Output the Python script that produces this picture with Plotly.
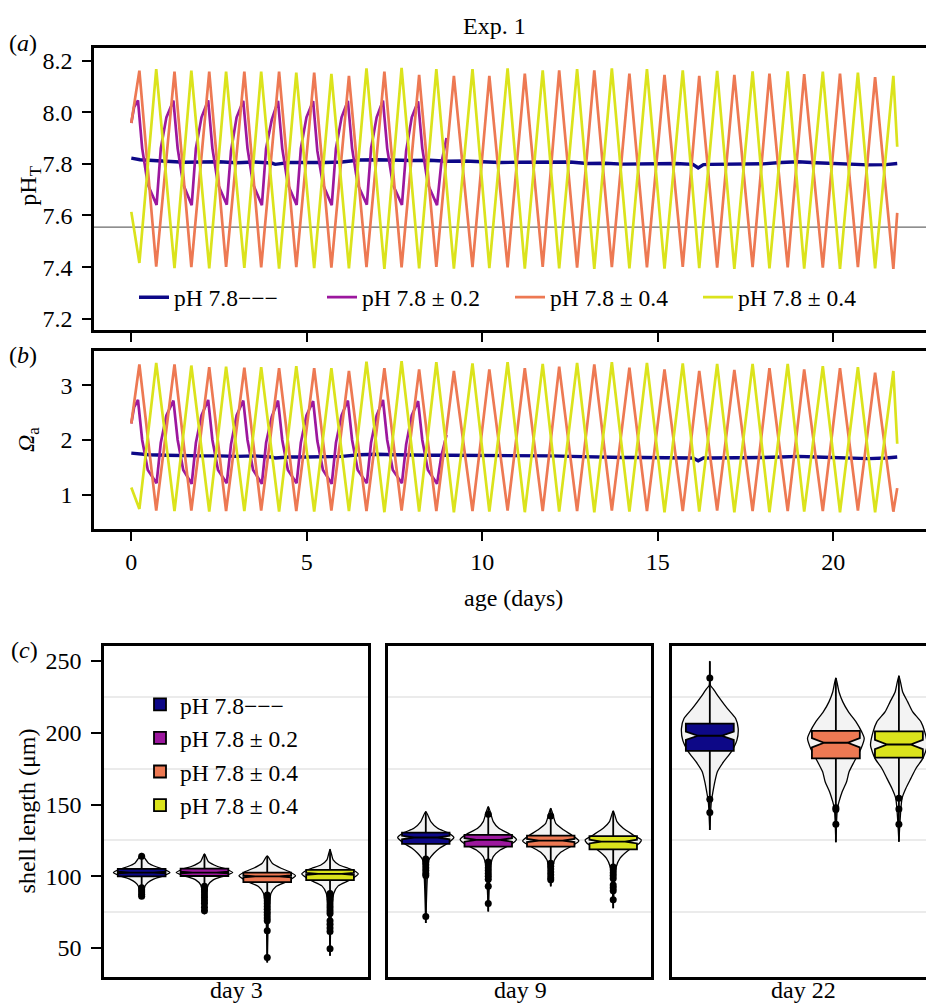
import plotly.graph_objects as go

# ---------------- DATA ----------------
SERIES = ["pH 7.8−−−", "pH 7.8 ± 0.2", "pH 7.8 ± 0.4", "pH 7.8 ± 0.4"]
COLORS = ["#0d0887", "#9c179e", "#ed7953", "#dbe31c"]

# panel (a)/(b) time series (age in days)
T_HIGH = [0.23, 1.23, 2.22, 3.22, 4.21, 5.21, 6.20, 7.21, 8.20, 9.19, 10.20,
          11.21, 12.19, 13.19, 14.19, 15.19, 16.18, 17.18, 18.18, 19.17, 20.19, 21.19]
T_LOW = [0.71, 1.71, 2.70, 3.70, 4.70, 5.70, 6.70, 7.70, 8.69, 9.72, 10.72,
         11.72, 12.70, 13.69, 14.69, 15.71, 16.69, 17.70, 18.70, 19.70, 20.70, 21.71]
T_START, T_END = 0.0, 21.82

ORANGE_PH_PEAK = [8.161, 8.157, 8.157, 8.157, 8.157, 8.153, 8.141, 8.157, 8.145, 8.141, 8.141,
                  8.149, 8.162, 8.162, 8.149, 8.145, 8.141, 8.145, 8.149, 8.147, 8.149, 8.136]
ORANGE_PH_TROUGH = [7.402, 7.400, 7.401, 7.399, 7.400, 7.398, 7.400, 7.399, 7.401, 7.400, 7.399,
                    7.401, 7.398, 7.400, 7.399, 7.401, 7.398, 7.400, 7.399, 7.398, 7.400, 7.393]
ORANGE_PH_ENDS = [7.958, 7.610]
YELLOW_PH_TROUGH = [7.416, 7.396, 7.395, 7.397, 7.394, 7.396, 7.395, 7.393, 7.395, 7.394, 7.396,
                    7.394, 7.395, 7.393, 7.395, 7.394, 7.396, 7.393, 7.395, 7.394, 7.393, 7.395]
YELLOW_PH_PEAK = [8.167, 8.161, 8.157, 8.157, 8.153, 8.148, 8.170, 8.172, 8.167, 8.167, 8.170,
                  8.162, 8.167, 8.170, 8.167, 8.162, 8.160, 8.158, 8.158, 8.157, 8.153, 8.141]
YELLOW_PH_ENDS = [7.614, 7.866]

ORANGE_OM_PEAK = [3.38, 3.38, 3.33, 3.32, 3.31, 3.31, 3.26, 3.31, 3.29, 3.26, 3.29,
                  3.31, 3.34, 3.38, 3.32, 3.29, 3.26, 3.28, 3.31, 3.29, 3.31, 3.23]
ORANGE_OM_TROUGH = [0.71, 0.71, 0.70, 0.71, 0.70, 0.71, 0.70, 0.71, 0.70, 0.70, 0.71,
                    0.70, 0.70, 0.71, 0.70, 0.70, 0.71, 0.70, 0.70, 0.70, 0.71, 0.69]
ORANGE_OM_ENDS = [2.30, 1.12]
YELLOW_OM_TROUGH = [0.74, 0.70, 0.69, 0.70, 0.69, 0.69, 0.70, 0.68, 0.69, 0.68, 0.69,
                    0.68, 0.69, 0.68, 0.69, 0.68, 0.69, 0.68, 0.68, 0.69, 0.68, 0.68]
YELLOW_OM_PEAK = [3.41, 3.36, 3.34, 3.33, 3.35, 3.31, 3.43, 3.44, 3.42, 3.40, 3.42,
                  3.39, 3.41, 3.42, 3.41, 3.40, 3.39, 3.39, 3.39, 3.35, 3.33, 3.26]
YELLOW_OM_ENDS = [1.13, 1.93]

MAG_T = [0.00, 0.08,
         0.19, 0.31, 0.47, 0.72, 0.84, 1.00,
         1.20, 1.32, 1.48, 1.72, 1.84, 2.00,
         2.19, 2.31, 2.47, 2.72, 2.84, 3.00,
         3.19, 3.31, 3.47, 3.72, 3.84, 4.00,
         4.18, 4.30, 4.46, 4.71, 4.83, 4.99,
         5.18, 5.30, 5.46, 5.71, 5.83, 5.99,
         6.17, 6.29, 6.45, 6.71, 6.83, 6.99,
         7.17, 7.29, 7.45, 7.71, 7.83, 7.99,
         8.17, 8.29, 8.45, 8.71, 8.83, 8.98]
MAG_PH = [7.958, 8.02,
          8.046, 7.86, 7.72, 7.641, 7.86, 7.98,
          8.045, 7.86, 7.72, 7.640, 7.86, 7.98,
          8.046, 7.86, 7.72, 7.642, 7.85, 7.98,
          8.044, 7.86, 7.72, 7.640, 7.86, 7.97,
          8.044, 7.86, 7.72, 7.641, 7.86, 7.98,
          8.043, 7.85, 7.72, 7.640, 7.86, 7.98,
          8.044, 7.86, 7.72, 7.642, 7.86, 7.98,
          8.045, 7.86, 7.72, 7.641, 7.85, 7.98,
          8.042, 7.86, 7.72, 7.640, 7.80, 7.90]
MAG_OM = [2.30, 2.60,
          2.73, 2.00, 1.45, 1.21, 1.95, 2.45,
          2.72, 2.00, 1.45, 1.20, 1.95, 2.45,
          2.73, 2.00, 1.45, 1.21, 1.92, 2.45,
          2.72, 2.00, 1.45, 1.20, 1.95, 2.42,
          2.72, 2.00, 1.45, 1.21, 1.95, 2.45,
          2.71, 1.98, 1.45, 1.20, 1.95, 2.45,
          2.72, 2.00, 1.45, 1.21, 1.95, 2.45,
          2.73, 2.00, 1.45, 1.21, 1.92, 2.45,
          2.71, 2.00, 1.45, 1.20, 1.70, 2.09]

BLUE_T = [0.0, 0.25, 0.5, 1.0, 1.5, 2.0, 2.5, 3.0, 3.5, 4.0, 4.1, 4.5, 5.0, 5.5, 6.0, 6.5,
          7.0, 7.5, 8.0, 8.5, 9.0, 9.5, 10.0, 10.5, 11.0, 11.5, 12.0, 12.5, 13.0, 13.5,
          14.0, 14.5, 15.0, 15.5, 16.0, 16.15, 16.3, 16.5, 17.0, 17.5, 18.0, 18.5, 19.0,
          19.5, 20.0, 20.5, 21.0, 21.5, 21.82]
BLUE_PH = [7.822, 7.816, 7.814, 7.810, 7.806, 7.807, 7.808, 7.804, 7.807, 7.803, 7.798,
           7.805, 7.804, 7.805, 7.807, 7.815, 7.816, 7.814, 7.813, 7.814, 7.810, 7.811,
           7.808, 7.805, 7.806, 7.806, 7.807, 7.807, 7.801, 7.802, 7.799, 7.801, 7.800,
           7.801, 7.798, 7.784, 7.797, 7.798, 7.798, 7.800, 7.800, 7.805, 7.808, 7.804,
           7.801, 7.798, 7.796, 7.797, 7.801]
BLUE_OM = [1.76, 1.74, 1.73, 1.72, 1.71, 1.71, 1.71, 1.70, 1.71, 1.69, 1.67, 1.69, 1.69,
           1.69, 1.70, 1.73, 1.74, 1.73, 1.72, 1.72, 1.72, 1.72, 1.72, 1.71, 1.71, 1.71,
           1.71, 1.70, 1.69, 1.69, 1.68, 1.68, 1.68, 1.68, 1.67, 1.62, 1.67, 1.67, 1.67,
           1.67, 1.68, 1.69, 1.70, 1.69, 1.68, 1.67, 1.66, 1.67, 1.69]

REF_PH = 7.555

# panel (c): shell length (µm), facets x groups (None = absent)
FACETS = ["day 3", "day 9", "day 22"]
POSITIONS = [1, 2, 3, 4]
Q1 = [[99.9, 100.2, 95.9, 97.3], [122.5, 120.7, 120.7, 118.8], [187.4, None, 182.1, 182.6]]
MEDIAN = [[102.6, 102.6, 99.9, 101.7], [127.0, 125.3, 124.9, 124.2], [197.9, None, 193.0, 191.8]]
Q3 = [[105.1, 105.3, 102.6, 104.4], [130.4, 128.8, 128.3, 128.0], [206.4, None, 201.3, 201.0]]
NOTCH = [[0.6, 0.6, 0.7, 0.7], [1.2, 1.2, 1.1, 1.3], [2.9, None, 3.2, 3.2]]
LINE_MIN = [[84.8, 73.6, 40.0, 44.6], [67.4, 75.5, 93.0, 77.8], [132.2, None, 123.7, 124.0]]
LINE_MAX = [[116.0, 115.6, 114.2, 118.8], [145.0, 148.5, 147.3, 145.5], [249.7, None, 238.2, 239.6]]
OUTLIERS = [
    [[114, 92, 90.5, 89, 87.5, 86],
     [93, 91, 89, 87, 85, 83, 81, 78.5, 76],
     [87, 85, 83, 81, 79, 77, 75, 73, 71, 69, 62, 43.5],
     [88, 86, 84, 82, 80, 78, 76, 74, 69, 66.5, 64, 61.5, 49.5]],
    [[112, 110, 108, 106, 104, 102, 100.5, 72],
     [143.2, 110, 108, 106, 104, 102, 100, 98, 93, 81],
     [142, 109, 107, 105, 103, 101, 99, 97.5],
     [106.5, 104.5, 102.5, 100.5, 98.5, 94, 92, 90, 83.6]],
    [[238.2, 153.6, 144.5], None, [147.8, 146.5, 136.2], [154.3, 146.8, 136.2]],
]
VIOLIN_Y = [
    [[116, 112.6, 109.1, 106.8, 104.9, 102.6, 100.3, 98.0, 95.7, 92.9, 86, 84.8],
     [115.6, 110.3, 106.8, 104.9, 102.6, 100.3, 97.5, 94.0, 85, 73.6],
     [114.2, 109.1, 105.6, 103.3, 100.3, 96.4, 92.9, 88.2, 67.4, 40],
     [118.8, 111.4, 108.0, 105.6, 104.0, 101.6, 97.5, 93.3, 88.2, 70, 44.6]],
    [[145, 138.1, 133.4, 130.4, 127, 123, 119.5, 116, 111.4, 98.7, 67.4],
     [148.5, 138.1, 133.4, 129.2, 125.7, 121.8, 118.3, 113.7, 108, 75.5],
     [147.3, 136.9, 132.2, 128.3, 124.6, 120.7, 116.7, 111.4, 104.4, 93],
     [145.5, 138.1, 133.4, 128.8, 125.3, 123, 118.3, 112.6, 106.8, 98.7, 77.8]],
    [[249.7, 233, 230.7, 223.8, 216.8, 209.9, 203, 194.8, 186.7, 179.8, 172.8, 165.9, 158.9, 152, 132.2],
     None,
     [238.2, 228.4, 221.5, 214.5, 207.6, 200.6, 196, 189, 179.8, 172.8, 165.9, 158.9, 152, 147.3, 123.7],
     [239.6, 228.4, 221.5, 214.5, 207.6, 200.6, 191.3, 182.1, 175.1, 168.2, 161.2, 154.3, 124]],
]
VIOLIN_HALF = [
    [[0, 0.05, 0.11, 0.22, 0.35, 0.45, 0.35, 0.19, 0.10, 0.05, 0.016, 0],
     [0, 0.06, 0.21, 0.35, 0.45, 0.32, 0.14, 0.06, 0.02, 0],
     [0, 0.08, 0.22, 0.35, 0.45, 0.32, 0.14, 0.06, 0.016, 0],
     [0, 0.05, 0.14, 0.29, 0.38, 0.45, 0.32, 0.13, 0.06, 0.016, 0]],
    [[0, 0.08, 0.19, 0.35, 0.45, 0.35, 0.22, 0.13, 0.05, 0.024, 0],
     [0, 0.08, 0.17, 0.35, 0.45, 0.35, 0.19, 0.08, 0.04, 0],
     [0, 0.08, 0.21, 0.35, 0.45, 0.32, 0.16, 0.06, 0.03, 0],
     [0, 0.06, 0.16, 0.32, 0.45, 0.42, 0.25, 0.11, 0.05, 0.024, 0]],
    [[0, 0.01, 0.05, 0.16, 0.28, 0.41, 0.45, 0.43, 0.34, 0.22, 0.12, 0.08, 0.05, 0.024, 0],
     None,
     [0, 0.05, 0.11, 0.2, 0.32, 0.41, 0.45, 0.4, 0.29, 0.21, 0.17, 0.1, 0.05, 0.024, 0],
     [0, 0.06, 0.14, 0.22, 0.35, 0.41, 0.45, 0.38, 0.27, 0.19, 0.11, 0.05, 0]],
]

# ---------------- LAYOUT HELPERS ----------------
W, H = 926, 1007
FONT = "Liberation Serif"
FS = 24
FS_LEG = 23.5


def px(x):
    return x / W


def py(y):
    return 1 - y / H


def zigzag(ends, t_a, v_a, t_b, v_b):
    ts, vs = [T_START], [ends[0]]
    for ta, va, tb, vb in zip(t_a, v_a, t_b, v_b):
        ts += [ta, tb]
        vs += [va, vb]
    ts.append(T_END)
    vs.append(ends[1])
    return ts, vs


fig = go.Figure()

# ---------------- panels (a) and (b) ----------------
orange_ph = zigzag(ORANGE_PH_ENDS, T_HIGH, ORANGE_PH_PEAK, T_LOW, ORANGE_PH_TROUGH)
yellow_ph = zigzag(YELLOW_PH_ENDS, T_HIGH, YELLOW_PH_TROUGH, T_LOW, YELLOW_PH_PEAK)
orange_om = zigzag(ORANGE_OM_ENDS, T_HIGH, ORANGE_OM_PEAK, T_LOW, ORANGE_OM_TROUGH)
yellow_om = zigzag(YELLOW_OM_ENDS, T_HIGH, YELLOW_OM_TROUGH, T_LOW, YELLOW_OM_PEAK)

ph_series = [(BLUE_T, BLUE_PH), (MAG_T, MAG_PH), orange_ph, yellow_ph]
om_series = [(BLUE_T, BLUE_OM), (MAG_T, MAG_OM), orange_om, yellow_om]
widths = [3.4, 2.7, 2.7, 2.7]

for i, (t, v) in enumerate(ph_series):
    fig.add_trace(go.Scatter(x=t, y=v, mode="lines", name=SERIES[i],
                             line=dict(color=COLORS[i], width=widths[i]),
                             xaxis="x", yaxis="y", legend="legend", showlegend=True))
for i, (t, v) in enumerate(om_series):
    fig.add_trace(go.Scatter(x=t, y=v, mode="lines", name=SERIES[i],
                             line=dict(color=COLORS[i], width=widths[i]),
                             xaxis="x2", yaxis="y2", showlegend=False))

# ---------------- panel (c) ----------------
# violins on the base facet axes, boxes + outliers on overlaying axes (drawn above)
xa = ["x3", "x4", "x5"]
ya = ["y3", "y4", "y5"]
xo = ["x6", "x7", "x8"]
yo = ["y6", "y7", "y8"]
for f in range(3):
    for g in range(4):
        if Q1[f][g] is None:
            continue
        pos = POSITIONS[g]
        vy = VIOLIN_Y[f][g]
        vw = VIOLIN_HALF[f][g]
        fig.add_trace(go.Scatter(
            x=[pos + w for w in vw] + [pos - w for w in vw[::-1]],
            y=vy + vy[::-1], mode="lines", fill="toself", fillcolor="#f3f3f3",
            line=dict(color="black", width=1.3, shape="spline", smoothing=0.6),
            xaxis=xa[f], yaxis=ya[f], showlegend=False, hoverinfo="skip"))
for f in range(3):
    for g in range(4):
        if Q1[f][g] is None:
            continue
        pos = POSITIONS[g]
        fig.add_trace(go.Box(
            x=[pos], q1=[Q1[f][g]], median=[MEDIAN[f][g]], q3=[Q3[f][g]],
            lowerfence=[LINE_MIN[f][g]], upperfence=[LINE_MAX[f][g]],
            notched=True, notchspan=[NOTCH[f][g]], notchwidth=0.25,
            width=0.76, whiskerwidth=0, boxpoints=False,
            fillcolor=COLORS[g], line=dict(color="black", width=1.8),
            name=SERIES[g], legend="legend2", legendgroup="g%d" % g,
            showlegend=(f == 0), xaxis=xo[f], yaxis=yo[f]))
        fig.add_trace(go.Scatter(
            x=[pos] * len(OUTLIERS[f][g]), y=OUTLIERS[f][g], mode="markers",
            marker=dict(color="black", size=7), xaxis=xo[f], yaxis=yo[f],
            showlegend=False, hoverinfo="skip"))

# ---------------- axes ----------------
tickfont = dict(family=FONT, size=FS, color="black")
common = dict(showgrid=False, zeroline=False, showline=True, linecolor="black",
              linewidth=2.5, ticks="outside", ticklen=9, tickwidth=2,
              tickcolor="black", tickfont=tickfont)

t_range = [-1.063, 22.64]
fig.update_layout(
    xaxis=dict(domain=[px(94), 1.0], range=t_range, anchor="y", tickvals=[0, 5, 10, 15, 20],
               showticklabels=False, mirror=True, **common),
    yaxis=dict(domain=[py(331), py(48)], range=[7.155, 8.249], anchor="x",
               tickvals=[7.2, 7.4, 7.6, 7.8, 8.0, 8.2], ticklabelstandoff=5,
               ticktext=["7.2", "7.4", "7.6", "7.8", "8.0", "8.2"], **common),
    xaxis2=dict(domain=[px(94), 1.0], range=t_range, anchor="y2", tickvals=[0, 5, 10, 15, 20],
                mirror=True, **common),
    yaxis2=dict(domain=[py(530.3), py(352)], range=[0.369, 3.62], anchor="x2",
                tickvals=[1, 2, 3], ticklabelstandoff=5, **common),
)

minor_grid = dict(tickmode="array", tickvals=[75, 125, 175, 225], showgrid=True,
                  gridcolor="#ebebeb", gridwidth=1.6, ticks="")
c_range = [29.8, 260.4]
c_dom = [py(979), py(647.3)]
frame = dict(showgrid=False, zeroline=False, showline=True, linecolor="black", linewidth=2.5)
x_ranges = [[0.4, 4.6], [0.4, 4.6], [0.4, 4.43]]
x_doms = [[px(104), px(367.7)], [px(388.3), px(650.7)], [px(672), 1.0]]
for f in range(3):
    n = f + 3
    m = f + 6
    fig.update_layout({
        "xaxis%d" % n: dict(domain=x_doms[f], range=x_ranges[f], anchor="y%d" % n,
                            showticklabels=False, ticks="", mirror=True, **frame),
        "xaxis%d" % m: dict(domain=x_doms[f], range=x_ranges[f], anchor="y%d" % m,
                            overlaying="x%d" % n, visible=False),
        "yaxis%d" % m: dict(domain=c_dom, range=c_range, anchor="x%d" % m,
                            overlaying="y%d" % n, visible=False),
    })
fig.update_layout(
    yaxis3=dict(domain=c_dom, range=c_range, anchor="x3",
                tickvals=[50, 100, 150, 200, 250], minor=minor_grid, mirror=True,
                ticks="outside", ticklen=10, tickwidth=2, tickcolor="black",
                ticklabelstandoff=5, tickfont=tickfont, **frame),
    yaxis4=dict(domain=c_dom, range=c_range, anchor="x4",
                showticklabels=False, ticks="", minor=minor_grid, mirror=True, **frame),
    yaxis5=dict(domain=c_dom, range=c_range, anchor="x5",
                showticklabels=False, ticks="", minor=minor_grid, mirror=False, **frame),
)

# reference line in panel (a)
fig.add_shape(type="line", xref="x domain", x0=0, x1=1, yref="y", y0=REF_PH, y1=REF_PH,
              line=dict(color="#6a6a6a", width=1.2), layer="below")

# ---------------- text ----------------
def ann(text, x, y, size=FS, angle=0, yanchor="middle"):
    fig.add_annotation(text=text, x=px(x), y=py(y), xref="paper", yref="paper",
                       showarrow=False, textangle=angle, xanchor="center", yanchor=yanchor,
                       font=dict(family=FONT, size=size, color="black"))


ann("Exp. 1", 494, 26)
ann("(<i>a</i>)", 23, 43)
ann("(<i>b</i>)", 23, 356)
ann("(<i>c</i>)", 24, 651)
ann("pH<sub>T</sub>", 30, 186, angle=-90)
ann("<i>Ω</i><sub>a</sub>", 28, 441, angle=-90)
ann("age (days)", 513, 599)
ann("shell length (μm)", 27, 813, angle=-90)
ann("day 3", 236, 1007, yanchor="bottom")
ann("day 9", 520, 1007, yanchor="bottom")
ann("day 22", 803, 1007, yanchor="bottom")

fig.update_layout(
    width=W, height=H, margin=dict(l=0, r=0, t=0, b=0),
    paper_bgcolor="white", plot_bgcolor="rgba(0,0,0,0)",
    font=dict(family=FONT, size=FS, color="black"),
    legend=dict(orientation="h", x=px(134), y=py(298), xanchor="left", yanchor="middle",
                bgcolor="rgba(0,0,0,0)", font=dict(family=FONT, size=FS_LEG, color="black"),
                entrywidth=143, entrywidthmode="pixels"),
    legend2=dict(orientation="v", x=px(140), y=py(684), xanchor="left", yanchor="top",
                 bgcolor="rgba(0,0,0,0)", traceorder="grouped", tracegroupgap=0,
                 font=dict(family=FONT, size=FS_LEG, color="black")),
    boxmode="overlay",
)

fig.write_html("out.html", config={"displayModeBar": False},
               post_script="document.body.style.margin='0px';")
